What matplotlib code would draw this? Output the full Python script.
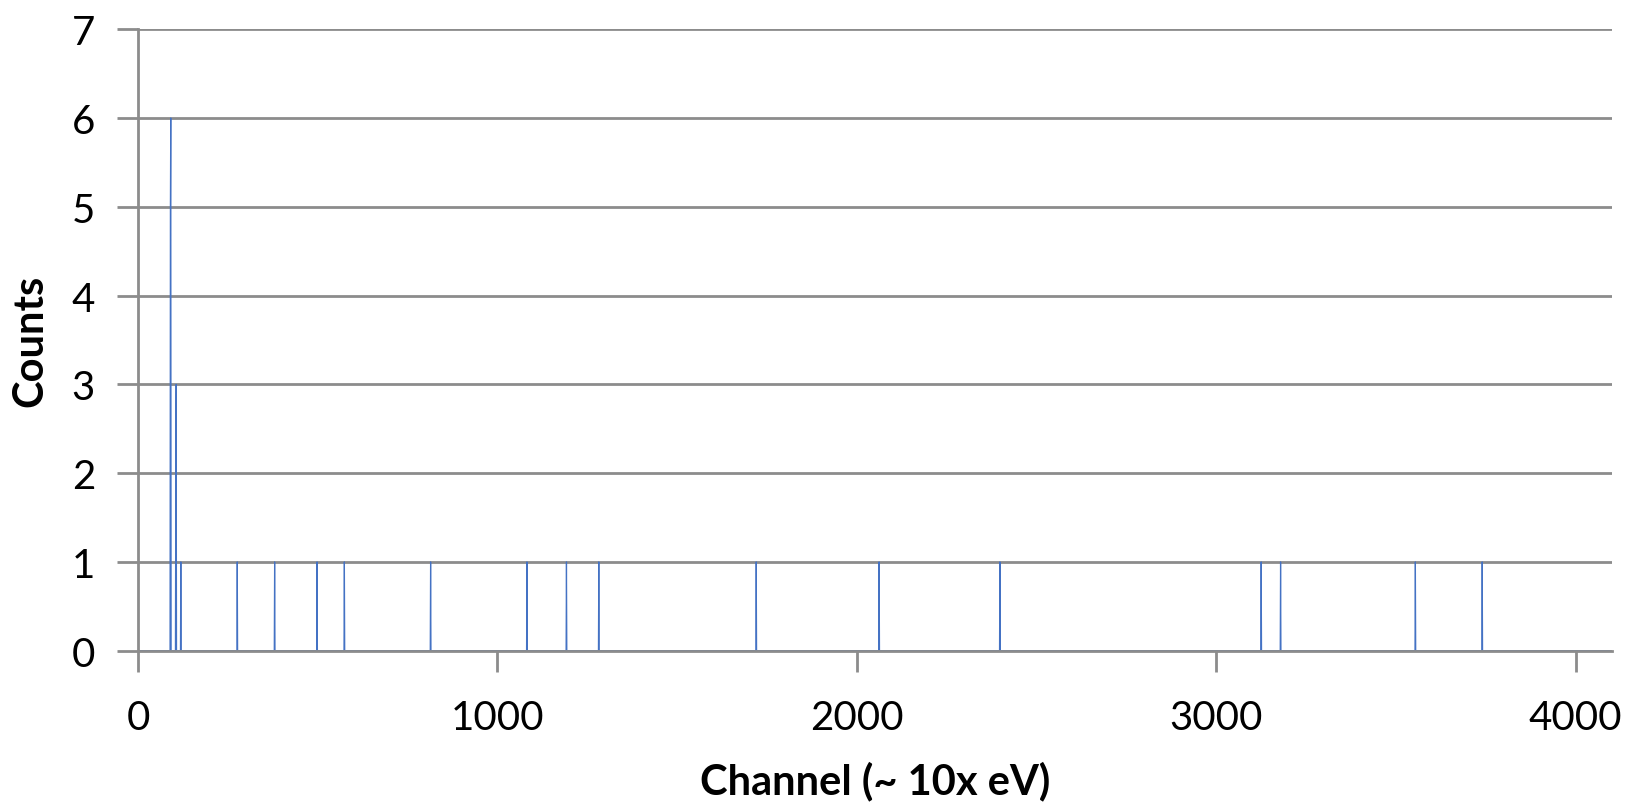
import numpy as np
import matplotlib.pyplot as plt

plt.rcParams['font.family'] = ['Lato', 'DejaVu Sans']

# spectrum: channel -> counts (all other channels are 0)
n_channels = 4096
peak_channels = [90, 91, 105, 106, 119, 276, 380, 498, 574, 814, 1082, 1192, 1282,
                 1720, 2062, 2398, 3125, 3179, 3554, 3740]
peak_counts = [5, 6, 2, 3, 1, 1, 1, 1, 1, 1, 1, 1, 1,
               1, 1, 1, 1, 1, 1, 1]

channel = np.arange(n_channels)
counts = np.zeros(n_channels)
counts[peak_channels] = peak_counts

grey = '#8c8c8c'
fig = plt.figure(figsize=(16.3, 8.03), dpi=100)
ax = fig.add_axes([0.0847, 0.1884, 0.904, 0.774])
ax.plot(channel, counts, color='#4472C4', lw=0.9)

ax.set_xlim(0, 4100)
ax.set_ylim(0, 7)
ax.set_xticks([0, 1000, 2000, 3000, 4000])
ax.set_yticks(range(8))
ax.yaxis.grid(True, color=grey, lw=2)
ax.set_axisbelow(True)
for s in ['top', 'right']:
    ax.spines[s].set_visible(False)
for s in ['left', 'bottom']:
    ax.spines[s].set_color(grey)
    ax.spines[s].set_linewidth(2)
ax.tick_params(axis='both', color=grey, width=2, length=15, labelsize=29)
ax.tick_params(axis='x', pad=20)
ax.tick_params(axis='y', pad=16)

ax.set_xlabel('Channel (~ 10x eV)', fontsize=30, fontweight='bold')
ax.set_ylabel('Counts', fontsize=30, fontweight='bold')
ax.xaxis.set_label_coords(0.5, -0.176)
ax.yaxis.set_label_coords(-0.06, 0.5)

fig.savefig('out.png', dpi=100)
